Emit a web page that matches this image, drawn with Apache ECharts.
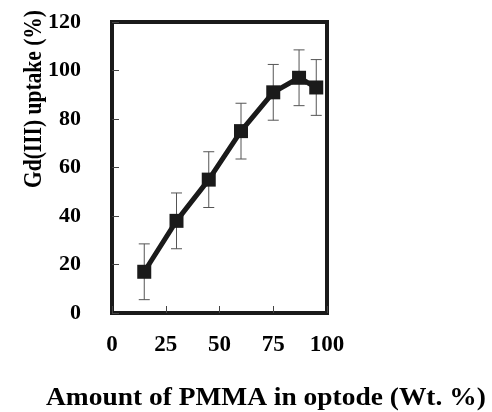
<!DOCTYPE html>
<html>
<head>
<meta charset="utf-8">
<script src="https://cdn.jsdelivr.net/npm/echarts@6/dist/echarts.min.js"></script>
<style>
html,body{margin:0;padding:0;background:#fff;}
#chart{width:492px;height:412px;}
</style>
</head>
<body>
<div id="chart"></div>
<script>
// PMMA amount (wt %) vs Gd(III) uptake (%)
let pmma = [15, 30, 45, 60, 75, 87, 95];
let uptake = [17, 38, 55, 75, 91, 97, 93];
let errs = [11.5, 11.5, 11.5, 11.5, 11.5, 11.5, 11.5];
let xTicks = [0, 25, 50, 75, 100];
let yTicks = [0, 20, 40, 60, 80, 100, 120];

let font = 'Liberation Serif';
let dark = '#1a1a1a';

let chart = echarts.init(document.getElementById('chart'));
chart.setOption({
    animation: false,
    grid: {left: 112, right: 165, top: 22, bottom: 99, show: true, borderColor: dark, borderWidth: 4, backgroundColor: 'transparent'},
    xAxis: {
        type: 'value', min: xTicks[0], max: xTicks[xTicks.length - 1], interval: 25,
        axisLine: {show: false},
        axisTick: {show: true, inside: true, length: 7, lineStyle: {color: '#444', width: 1}},
        splitLine: {show: false},
        axisLabel: {margin: 21, color: '#000', fontFamily: font, fontWeight: 'bold', fontSize: 23}
    },
    yAxis: {
        type: 'value', min: yTicks[0], max: yTicks[yTicks.length - 1], interval: 20,
        axisLine: {show: false},
        axisTick: {show: true, inside: true, length: 7, lineStyle: {color: '#444', width: 1}},
        splitLine: {show: false},
        axisLabel: {margin: 31, color: '#000', fontFamily: font, fontWeight: 'bold', fontSize: 22}
    },
    graphic: [
        {type: 'text', x: 35, y: 188, rotation: Math.PI / 2, scaleY: 1.17,
         style: {x: 0, y: 0, text: 'Gd(III) uptake (%)', fill: '#000', align: 'left', verticalAlign: 'middle',
                 font: 'bold 21.5px "Liberation Serif"'}},
        {type: 'text', x: 46, y: 399, scaleX: 1.12,
         style: {x: 0, y: 0, text: 'Amount of PMMA in optode (Wt. %)', fill: '#000', align: 'left', verticalAlign: 'middle',
                 font: 'bold 24.5px "Liberation Serif"'}}
    ],
    series: [
        {
            type: 'custom',
            data: pmma.map((x, i) => [x, uptake[i] - errs[i], uptake[i] + errs[i]]),
            renderItem: (params, api) => {
                let lo = api.coord([api.value(0), api.value(1)]);
                let hi = api.coord([api.value(0), api.value(2)]);
                let w = 5.5;
                let st = {stroke: '#555', lineWidth: 1};
                return {type: 'group', children: [
                    {type: 'line', shape: {x1: lo[0], y1: lo[1], x2: hi[0], y2: hi[1]}, style: st},
                    {type: 'line', shape: {x1: lo[0] - w, y1: lo[1], x2: lo[0] + w, y2: lo[1]}, style: st},
                    {type: 'line', shape: {x1: hi[0] - w, y1: hi[1], x2: hi[0] + w, y2: hi[1]}, style: st}
                ]};
            },
            z: 1
        },
        {
            type: 'line',
            data: pmma.map((x, i) => [x, uptake[i]]),
            symbol: 'rect', symbolSize: 14,
            lineStyle: {color: dark, width: 5},
            itemStyle: {color: dark},
            z: 3
        }
    ]
});
</script>
</body>
</html>
